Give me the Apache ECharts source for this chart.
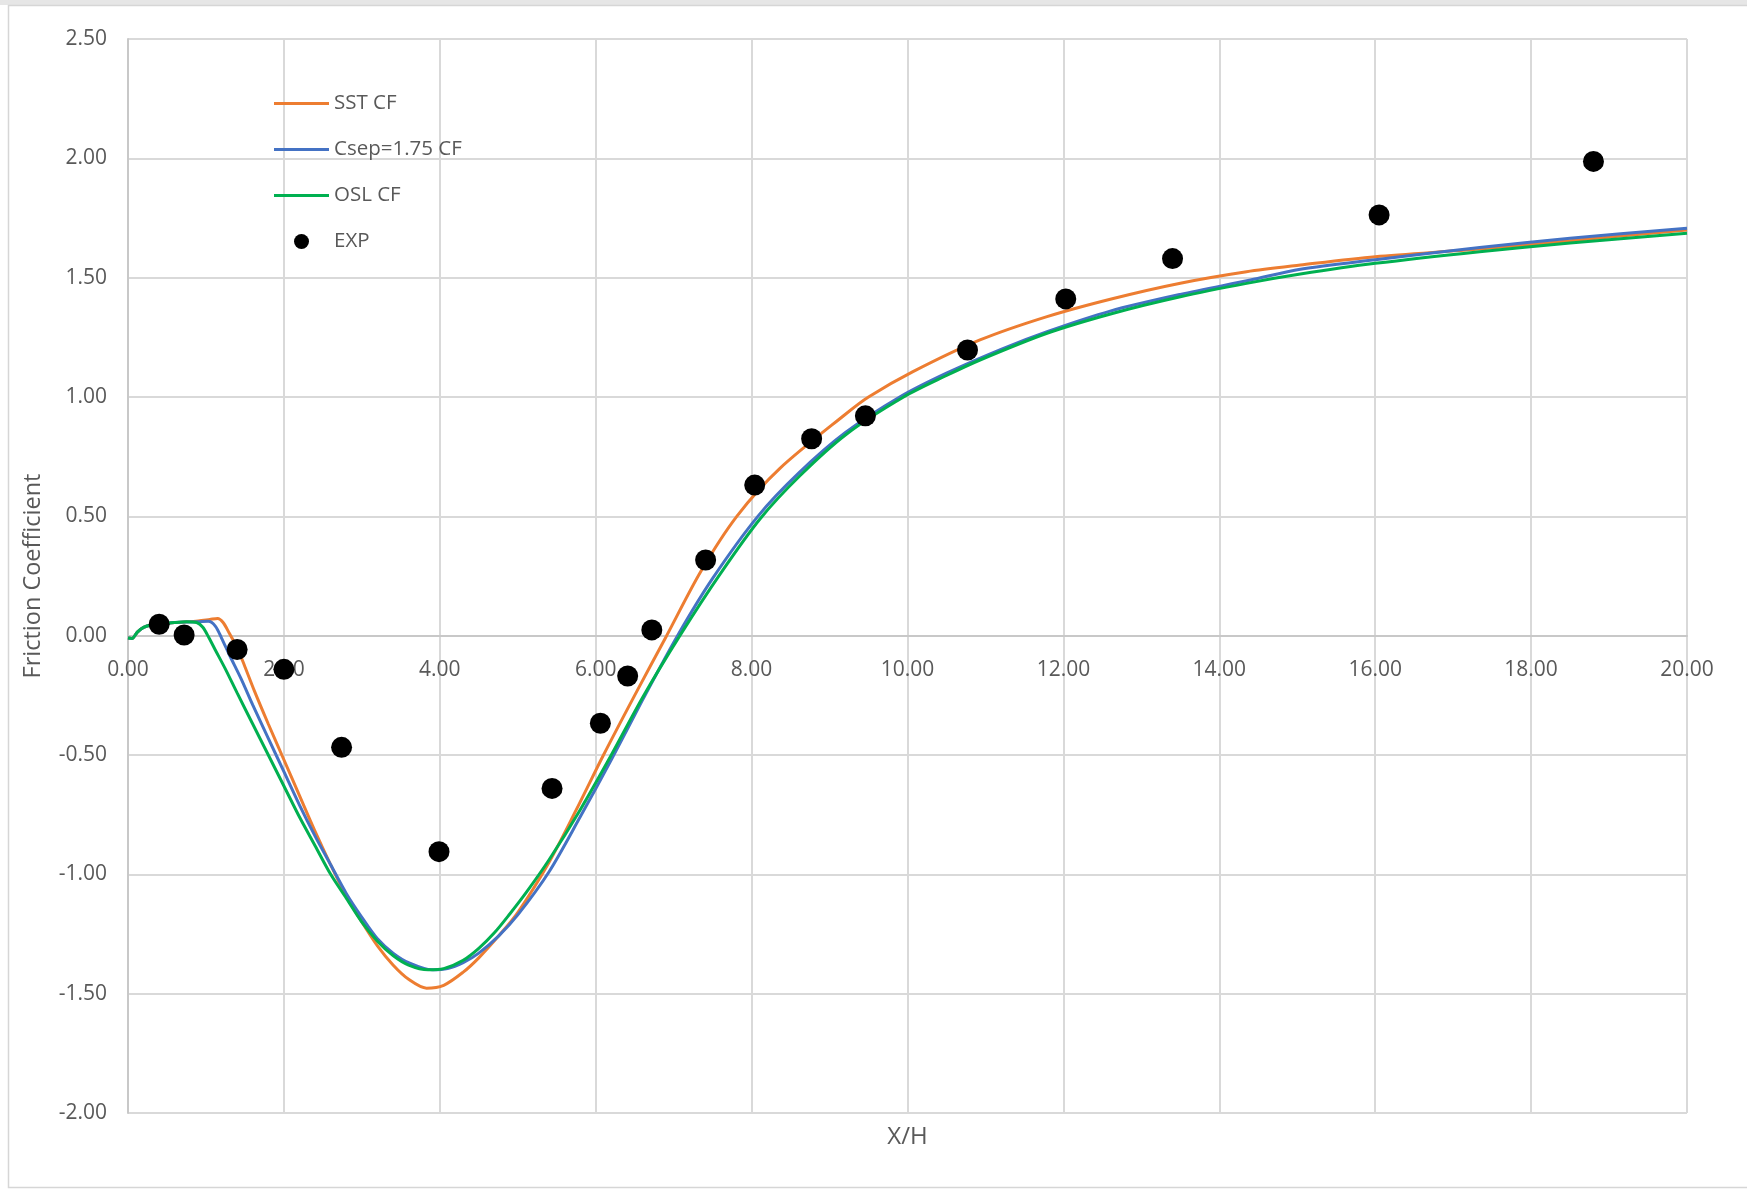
<!DOCTYPE html>
<html>
<head>
<meta charset="utf-8">
<script src="https://cdn.jsdelivr.net/npm/echarts@6/dist/echarts.min.js"></script>
<style>
  html, body { margin: 0; padding: 0; background: #ffffff; }
  #chart { width: 1747px; height: 1190px; }
</style>
</head>
<body>
<div id="chart"></div>
<script>
// Skin-friction coefficient along the wall, X/H downstream of the step

// Experimental points
const expX = [0.40, 0.72, 1.40, 2.00, 2.74, 3.99, 5.44, 6.06, 6.41, 6.72, 7.41, 8.04, 8.77, 9.46, 10.77, 12.03, 13.40, 16.05, 18.80];
const expY = [0.048, 0.003, -0.058, -0.141, -0.468, -0.905, -0.640, -0.367, -0.169, 0.024, 0.317, 0.631, 0.825, 0.921, 1.197, 1.411, 1.580, 1.763, 1.987];

// SST model
const sstX = [0, 0.05, 0.12, 0.2, 0.3, 0.45, 0.6, 0.75, 0.9, 1.05, 1.15, 1.22, 1.3, 1.4, 1.5, 1.62, 1.8, 2.0, 2.2, 2.4, 2.6, 2.8, 3.0, 3.2, 3.4, 3.6, 3.83, 4.05, 4.3, 4.5, 4.75, 5.0, 5.4, 5.75, 6.1, 6.5, 6.91, 7.35, 7.81, 8.36, 9.22, 9.5, 10.07, 10.93, 11.79, 12.64, 13.5, 14.35, 15.04, 16, 17.34, 18.5, 20];
const sstY = [-0.01, -0.012, 0.015, 0.035, 0.045, 0.05, 0.055, 0.058, 0.062, 0.068, 0.072, 0.055, 0.01, -0.05, -0.13, -0.23, -0.37, -0.52, -0.67, -0.82, -0.96, -1.09, -1.2, -1.3, -1.38, -1.44, -1.477, -1.465, -1.41, -1.35, -1.26, -1.16, -0.95, -0.73, -0.5, -0.25, 0, 0.27, 0.5, 0.70, 0.932, 1.0, 1.106, 1.239, 1.337, 1.413, 1.477, 1.525, 1.553, 1.588, 1.62, 1.655, 1.70];

// Csep = 1.75 model
const csepX = [0, 0.05, 0.12, 0.2, 0.3, 0.45, 0.6, 0.75, 0.9, 1.03, 1.12, 1.2, 1.3, 1.45, 1.6, 1.8, 2.0, 2.2, 2.4, 2.6, 2.8, 3.0, 3.2, 3.4, 3.6, 3.9, 4.1, 4.3, 4.5, 4.75, 5.0, 5.4, 5.8, 6.2, 6.6, 7.05, 7.5, 8.08, 8.6, 9.2, 9.9, 10.5, 11.2, 11.8, 12.6, 13.5, 14.4, 15.04, 16, 17.34, 18.5, 20];
const csepY = [-0.01, -0.012, 0.015, 0.035, 0.045, 0.05, 0.055, 0.057, 0.058, 0.06, 0.04, -0.01, -0.08, -0.18, -0.29, -0.43, -0.57, -0.71, -0.84, -0.96, -1.08, -1.18, -1.27, -1.33, -1.37, -1.40, -1.395, -1.37, -1.33, -1.26, -1.17, -0.99, -0.76, -0.52, -0.27, 0, 0.24, 0.5, 0.68, 0.85, 1.0, 1.1, 1.2, 1.275, 1.36, 1.43, 1.49, 1.535, 1.575, 1.626, 1.665, 1.707];

// OSL model
const oslX = [0, 0.05, 0.12, 0.2, 0.3, 0.45, 0.6, 0.75, 0.88, 0.96, 1.04, 1.12, 1.25, 1.4, 1.6, 1.8, 2.0, 2.2, 2.4, 2.6, 2.8, 3.0, 3.2, 3.4, 3.6, 3.85, 4.05, 4.3, 4.5, 4.7, 4.9, 5.1, 5.4, 5.8, 6.2, 6.6, 7.08, 7.6, 8.11, 8.62, 9.22, 9.95, 10.5, 10.93, 11.79, 12.64, 13.5, 14.35, 15.04, 16, 17.34, 18.5, 20];
const oslY = [-0.01, -0.012, 0.015, 0.035, 0.045, 0.05, 0.055, 0.058, 0.055, 0.035, -0.01, -0.06, -0.14, -0.24, -0.37, -0.5, -0.63, -0.76, -0.88, -1.0, -1.1, -1.2, -1.28, -1.34, -1.38, -1.40, -1.395, -1.36, -1.31, -1.245, -1.165, -1.08, -0.94, -0.73, -0.5, -0.26, 0, 0.26, 0.49, 0.67, 0.845, 1.0, 1.09, 1.155, 1.267, 1.351, 1.42, 1.476, 1.515, 1.56, 1.609, 1.645, 1.686];

const seriesNames = ['SST CF', 'Csep=1.75 CF', 'OSL CF', 'EXP'];
const seriesColors = ['#ED7D31', '#4472C4', '#00B050', '#000000'];

const yMin = -2, yMax = 2.5, yStep = 0.5;
const xMin = 0, xMax = 20, xStep = 2;

const pairs = (xs, ys) => xs.map((x, i) => [x, ys[i]]);

const FONT = '"Open Sans", "Liberation Sans", sans-serif';
const TEXT = '#595959';
const LINE_ICON = 'path://M0,0H55V3H0Z';

// plot box in page pixels
const W = 1747, H = 1190;
const GRID = { left: 128, right: 60, top: 39, bottom: 77 };
const plotH = H - GRID.top - GRID.bottom;
// lift the x axis from the bottom edge up to the y = 0 line
const zeroLift = plotH * (0 - yMin) / (yMax - yMin);

function lineSeries(idx, xs, ys) {
  return {
    name: seriesNames[idx],
    type: 'line',
    data: pairs(xs, ys),
    symbol: 'none',
    showSymbol: false,
    smooth: 0.3,
    lineStyle: { color: seriesColors[idx], width: 3 },
    itemStyle: { color: seriesColors[idx] },
    z: 2 + idx
  };
}

const chart = echarts.init(document.getElementById('chart'), null, { renderer: 'canvas' });

chart.setOption({
  animation: false,
  backgroundColor: '#ffffff',
  textStyle: { fontFamily: FONT },
  graphic: [
    { type: 'rect', shape: { x: 0, y: 0, width: W, height: 5 }, style: { fill: '#e6e6e6' }, z: -10 },
    { type: 'rect', shape: { x: 8.5, y: 5.5, width: W + 20, height: 1182 }, style: { fill: '#ffffff', stroke: '#d6d6d6', lineWidth: 1.5 }, z: -9 },
    { type: 'text', x: (GRID.left + W - GRID.right) / 2, y: 1137, style: { text: 'X/H', fill: TEXT, fontSize: 24, fontFamily: FONT, textAlign: 'center', textVerticalAlign: 'middle' }, z: 5 }
  ],
  grid: { left: GRID.left, right: GRID.right, top: GRID.top, bottom: GRID.bottom, containLabel: false, outerBoundsMode: 'none' },
  legend: {
    orient: 'vertical',
    left: 269,
    top: 88,
    padding: 5,
    itemWidth: 55,
    itemHeight: 15,
    itemGap: 25,
    data: [
      { name: seriesNames[0], icon: LINE_ICON },
      { name: seriesNames[1], icon: LINE_ICON },
      { name: seriesNames[2], icon: LINE_ICON },
      { name: seriesNames[3], icon: 'circle' }
    ],
    textStyle: { color: TEXT, fontSize: 20.5, fontFamily: FONT }
  },
  xAxis: {
    type: 'value',
    min: xMin,
    max: xMax,
    interval: xStep,
    position: 'bottom',
    offset: -zeroLift,
    axisLine: { show: true, onZero: false, lineStyle: { color: '#c8c8c8', width: 2 } },
    axisTick: { show: false },
    axisLabel: { color: TEXT, fontSize: 21, margin: 24, formatter: v => v.toFixed(2) },
    splitLine: { show: true, lineStyle: { color: '#d9d9d9', width: 2 } }
  },
  yAxis: {
    type: 'value',
    min: yMin,
    max: yMax,
    interval: yStep,
    name: 'Friction Coefficient',
    nameLocation: 'middle',
    nameGap: 83,
    nameTextStyle: { color: TEXT, fontSize: 23.5, fontFamily: FONT },
    axisLine: { show: true, lineStyle: { color: '#c8c8c8', width: 2 } },
    axisTick: { show: false },
    axisLabel: { color: TEXT, fontSize: 21, margin: 21, formatter: v => v.toFixed(2) },
    splitLine: { show: true, lineStyle: { color: '#d9d9d9', width: 2 } }
  },
  series: [
    lineSeries(0, sstX, sstY),
    lineSeries(1, csepX, csepY),
    lineSeries(2, oslX, oslY),
    {
      name: seriesNames[3],
      type: 'scatter',
      data: pairs(expX, expY),
      symbol: 'circle',
      symbolSize: 21,
      itemStyle: { color: seriesColors[3], opacity: 1 },
      z: 10
    }
  ]
});
</script>
</body>
</html>
